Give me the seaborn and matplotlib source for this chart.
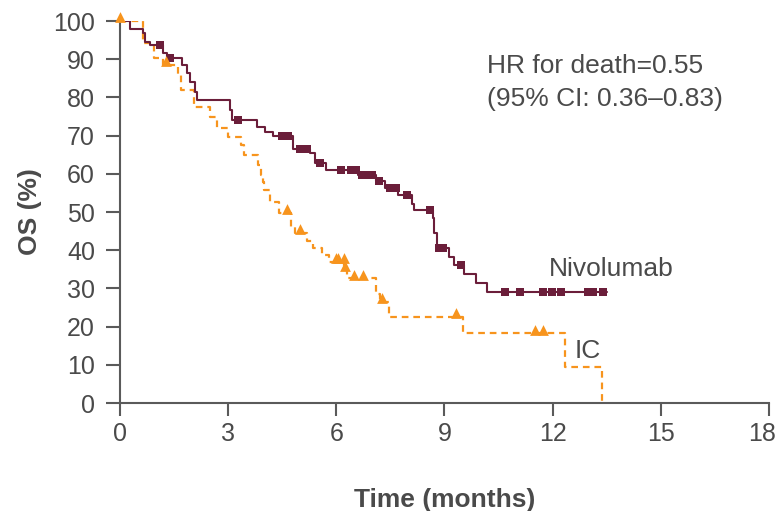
import numpy as np
import pandas as pd
import matplotlib
matplotlib.use("Agg")
import matplotlib.pyplot as plt
import matplotlib.transforms as mtransforms
import seaborn as sns

# ---- data ----
niv_time = [0, 0.28, 0.64, 0.70, 0.83, 1.2, 1.3, 1.71, 1.85, 1.94, 2.08, 2.13, 3.05, 3.12,
            3.79, 4.02, 4.24, 4.8, 5.27, 5.4, 5.7, 6.6, 7.1, 7.35, 7.7, 8.1, 8.15, 8.68,
            8.72, 8.8, 9.12, 9.27, 9.54, 9.87, 10.18, 13.5]
niv_surv = [100, 98, 96.8, 94.6, 93.7, 91.6, 90.2, 88.5, 86.4, 84.1, 81.5, 79.3, 76.7, 74,
            72.3, 71, 69.9, 66.4, 65.4, 62.8, 61, 59.7, 58, 56.3, 54.5, 52, 50.5, 48.4,
            44.5, 40.6, 38.2, 36.1, 33.8, 31.4, 29, 29]
niv_censor = [1.1, 1.39, 3.27, 4.48, 4.67, 5.0, 5.2, 5.55, 6.13, 6.4, 6.55, 6.7, 6.85, 7.0,
              7.18, 7.5, 7.65, 7.95, 8.6, 8.85, 8.95, 9.45, 10.68, 11.09, 11.73, 11.98,
              12.23, 12.98, 13.12, 13.39]

ic_time = [0, 0.65, 0.95, 1.2, 1.6, 1.7, 2.05, 2.5, 2.7, 3.0, 3.35, 3.45, 3.83, 3.9, 3.97,
           4.0, 4.15, 4.4, 4.75, 4.85, 5.2, 5.35, 5.6, 5.8, 6.22, 6.3, 7.1, 7.2, 7.46, 9.5,
           12.34, 13.36]
ic_surv = [100, 94.2, 90.3, 88.5, 86, 82, 77.5, 75, 72, 69.6, 67.5, 65, 62.3, 59.7, 57.9,
           55.8, 52.7, 49.7, 46, 44.5, 42.5, 40.6, 38.7, 37, 34.8, 32.6, 28.5, 26.5, 22.6,
           18.2, 9.5, 0]
ic_censor = [0, 1.28, 4.62, 4.99, 6.0, 6.05, 6.2, 6.24, 6.49, 6.74, 7.26, 9.32, 11.5, 11.73]

x_ticks = [0, 3, 6, 9, 12, 15, 18]
y_ticks = [0, 10, 20, 30, 40, 50, 60, 70, 80, 90, 100]
hr_lines = ["HR for death=0.55", "(95% CI: 0.36\u20130.83)"]

NIV_COL = "#6b1e3a"
IC_COL = "#f7941d"
TXT = "#4a4a4a"
AX = "#5a5a5a"


def step_value(times, surv, t):
    idx = np.searchsorted(np.asarray(times), t, side="right") - 1
    return np.asarray(surv)[idx]


sns.set_theme(style="white")
plt.rcParams["font.family"] = ["Liberation Sans", "DejaVu Sans"]

fig = plt.figure(figsize=(7.79, 5.11), dpi=100)
ax = fig.add_axes([120 / 779, 1 - 403 / 511, (769 - 120) / 779, (403 - 21) / 511])

niv_df = pd.DataFrame({"t": niv_time, "s": niv_surv})
ic_df = pd.DataFrame({"t": ic_time, "s": ic_surv})

sns.lineplot(data=ic_df, x="t", y="s", ax=ax, drawstyle="steps-post", color=IC_COL,
             linewidth=1.6, linestyle=(0, (3, 2.2)), estimator=None, sort=False)
sns.lineplot(data=niv_df, x="t", y="s", ax=ax, drawstyle="steps-post", color=NIV_COL,
             linewidth=1.5, estimator=None, sort=False)

niv_c = pd.DataFrame({"t": niv_censor,
                      "s": [step_value(niv_time, niv_surv, t) for t in niv_censor]})
ic_c = pd.DataFrame({"t": ic_censor,
                     "s": [step_value(ic_time, ic_surv, t) + 1.0 for t in ic_censor]})
sns.scatterplot(data=niv_c, x="t", y="s", ax=ax, marker="s", color=NIV_COL, s=38,
                linewidth=0, zorder=5, clip_on=False)
sns.scatterplot(data=ic_c, x="t", y="s", ax=ax, marker="^", color=IC_COL, s=60,
                linewidth=0, zorder=5, clip_on=False)

ax.set_xlim(0, 18)
ax.set_ylim(0, 100)
ax.set_xticks(x_ticks)
ax.set_yticks(y_ticks)
ax.set_xticklabels([str(v) for v in x_ticks])
ax.set_yticklabels([str(v) for v in y_ticks])

for side in ["top", "right"]:
    ax.spines[side].set_visible(False)
for side in ["left", "bottom"]:
    ax.spines[side].set_color(AX)
    ax.spines[side].set_linewidth(1.5)

ax.tick_params(axis="y", direction="out", length=10, width=1.5, color=AX,
               labelsize=18, labelcolor=TXT, pad=8, left=True)
ax.tick_params(axis="x", direction="out", length=9, width=1.5, color=AX,
               labelsize=18, labelcolor=TXT, pad=5, bottom=True)

# keep the last x tick label inside the canvas
last = ax.get_xticklabels()[-1]
last.set_transform(last.get_transform() + mtransforms.ScaledTranslation(-5 / 72, 0, fig.dpi_scale_trans))

ax.set_xlabel("Time (months)", fontsize=19, fontweight="bold", color=TXT, labelpad=30)
ax.set_ylabel("OS (%)", fontsize=19, fontweight="bold", color=TXT, labelpad=8)

ax.text(10.18, 88.2, hr_lines[0], fontsize=19, color=TXT, ha="left", va="center")
ax.text(10.18, 79.5, hr_lines[1], fontsize=19, color=TXT, ha="left", va="center")
ax.text(11.9, 35, "Nivolumab", fontsize=19, color=TXT, ha="left", va="center")
ax.text(12.6, 13.5, "IC", fontsize=19, color=TXT, ha="left", va="center")

fig.savefig("out.png", dpi=100)
